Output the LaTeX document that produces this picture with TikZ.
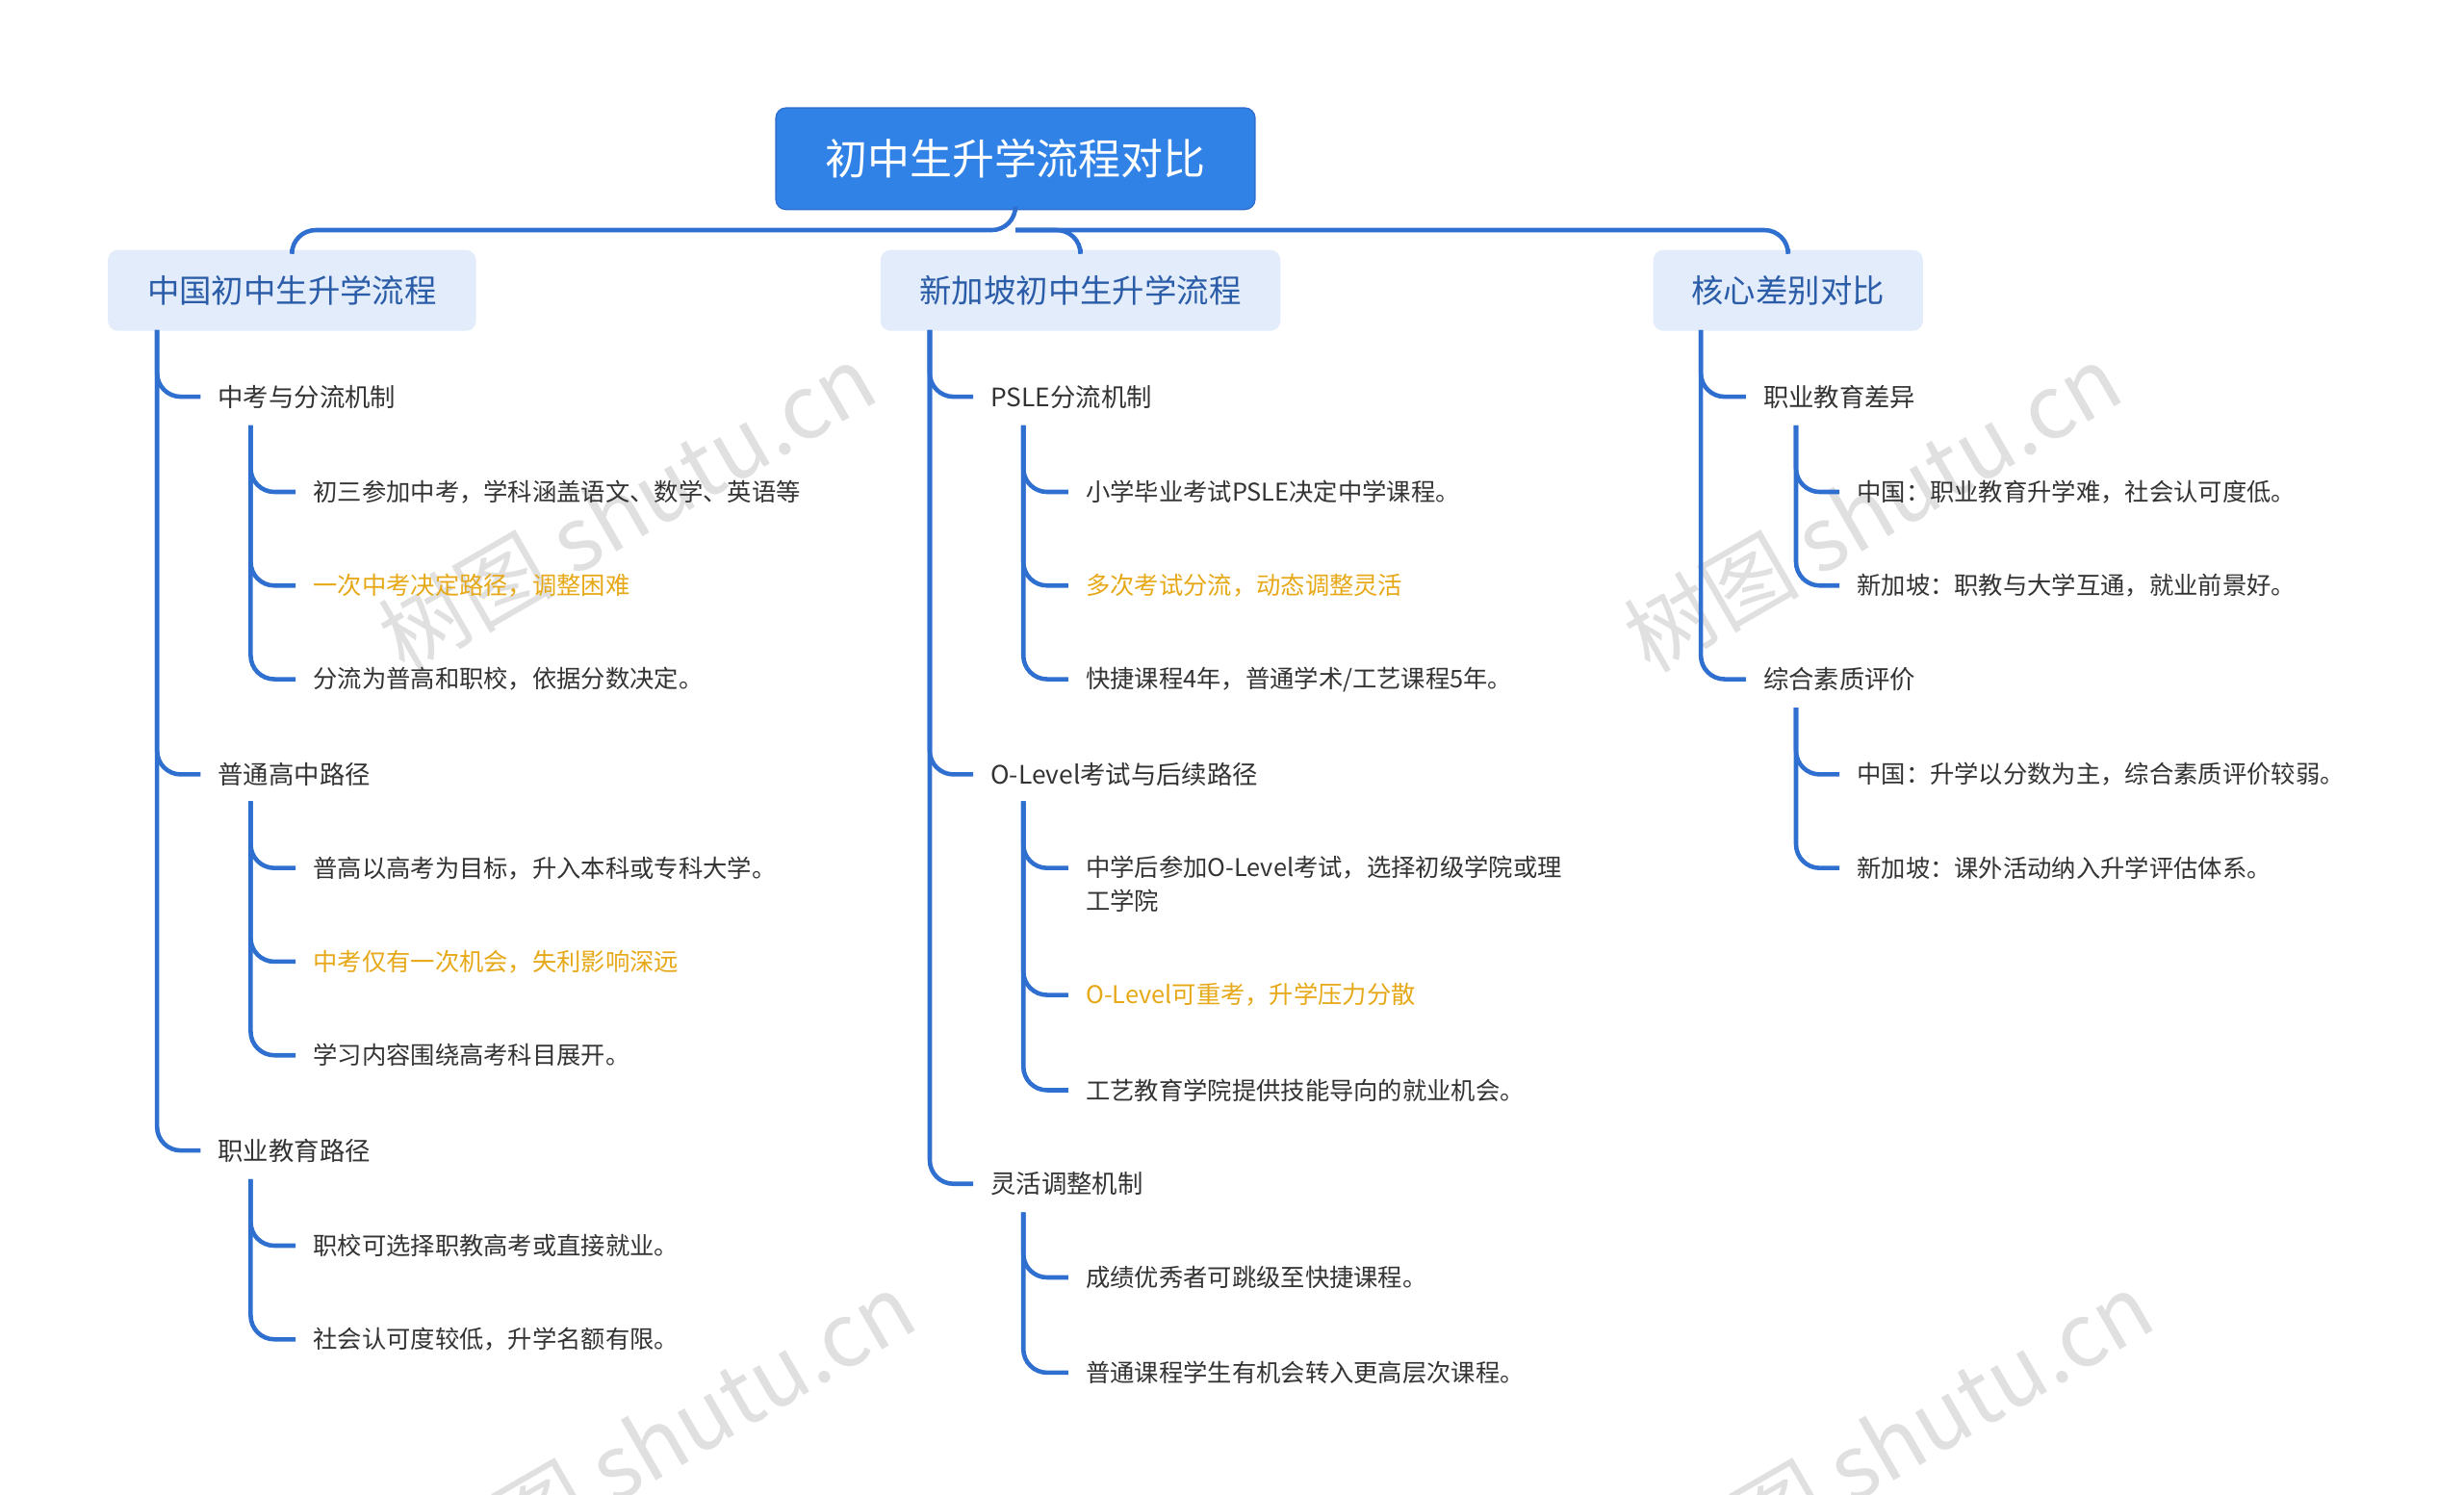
\documentclass[tikz,border=0pt]{standalone}
\usepackage{fontspec}
\setmainfont{Noto Sans CJK SC}
\definecolor{rootc}{HTML}{3182E6}
\definecolor{l1fill}{HTML}{E3ECFB}
\definecolor{l1text}{HTML}{2A5CA8}
\definecolor{linec}{HTML}{2F6FD0}
\definecolor{orc}{HTML}{E6A817}
\definecolor{leafc}{HTML}{333333}
\begin{document}
\begin{tikzpicture}[x=0.01648cm,y=-0.01648cm,
 conn/.style={draw=linec,line width=1.3pt,rounded corners=7pt},
 lone/.style={fill=l1fill,rounded corners=3pt,text=l1text,font=\fontsize{9.5}{11}\selectfont,minimum height=51*0.01648cm,inner xsep=10pt},
 ltwo/.style={anchor=west,text=leafc,font=\fontsize{7.5}{9}\selectfont,inner sep=0pt},
 leaf/.style={anchor=west,text=leafc,font=\fontsize{7.2}{10}\selectfont,inner sep=0pt,align=left},
 oleaf/.style={leaf,text=orc},
 wm/.style={text=black!12,font=\fontsize{26}{30}\selectfont,rotate=30}]
\useasboundingbox (0,0) rectangle (1553,942);
\node[wm] at (395,320) {树图 shutu.cn};
\node[wm] at (1180,320) {树图 shutu.cn};
\node[wm] at (420,905) {树图 shutu.cn};
\node[wm] at (1200,905) {树图 shutu.cn};
% root
\node[fill=rootc,draw=linec,rounded corners=3pt,text=white,font=\fontsize{12.5}{14}\selectfont,minimum width=302*0.01648cm,minimum height=64*0.01648cm] (root) at (640,100) {初中生升学流程对比};
\node[lone,minimum width=232*0.01648cm] (c1) at (184,183) {中国初中生升学流程};
\node[lone,minimum width=252*0.01648cm] (c2) at (681,183) {新加坡初中生升学流程};
\node[lone,minimum width=170*0.01648cm] (c3) at (1127,183) {核心差别对比};
\coordinate (rb) at (640,145);
\draw[conn] (root.south) -- (rb) -| (c1.north);
\draw[conn] (rb) -| (c2.north);
\draw[conn] (rb) -| (c3.north);
% column 1
\coordinate (p1) at (99,208);
\node[ltwo] (a1) at (137,250) {中考与分流机制};
\node[ltwo] (a2) at (137,488) {普通高中路径};
\node[ltwo] (a3) at (137,725) {职业教育路径};
\foreach \n in {a1,a2,a3}{\draw[conn] (p1) |- ([xshift=-5pt]\n.west);}
\coordinate (q1) at (158,268);
\node[leaf] (a11) at (197,310) {初三参加中考，学科涵盖语文、数学、英语等};
\node[oleaf] (a12) at (197,369) {一次中考决定路径，调整困难};
\node[leaf] (a13) at (197,428) {分流为普高和职校，依据分数决定。};
\foreach \n in {a11,a12,a13}{\draw[conn] (q1) |- ([xshift=-5pt]\n.west);}
\coordinate (q2) at (158,505);
\node[leaf] (a21) at (197,547) {普高以高考为目标，升入本科或专科大学。};
\node[oleaf] (a22) at (197,606) {中考仅有一次机会，失利影响深远};
\node[leaf] (a23) at (197,665) {学习内容围绕高考科目展开。};
\foreach \n in {a21,a22,a23}{\draw[conn] (q2) |- ([xshift=-5pt]\n.west);}
\coordinate (q3) at (158,743);
\node[leaf] (a31) at (197,785) {职校可选择职教高考或直接就业。};
\node[leaf] (a32) at (197,844) {社会认可度较低，升学名额有限。};
\foreach \n in {a31,a32}{\draw[conn] (q3) |- ([xshift=-5pt]\n.west);}
% column 2
\coordinate (p2) at (586,208);
\node[ltwo] (b1) at (624,250) {PSLE分流机制};
\node[ltwo] (b2) at (624,488) {O-Level考试与后续路径};
\node[ltwo] (b3) at (624,746) {灵活调整机制};
\foreach \n in {b1,b2,b3}{\draw[conn] (p2) |- ([xshift=-5pt]\n.west);}
\coordinate (r1) at (645,268);
\node[leaf] (b11) at (684,310) {小学毕业考试PSLE决定中学课程。};
\node[oleaf] (b12) at (684,369) {多次考试分流，动态调整灵活};
\node[leaf] (b13) at (684,428) {快捷课程4年，普通学术/工艺课程5年。};
\foreach \n in {b11,b12,b13}{\draw[conn] (r1) |- ([xshift=-5pt]\n.west);}
\coordinate (r2) at (645,505);
\node[leaf] (b21) at (684,557) {中学后参加O-Level考试，选择初级学院或理\\工学院};
\node[oleaf] (b22) at (684,627) {O-Level可重考，升学压力分散};
\node[leaf] (b23) at (684,687) {工艺教育学院提供技能导向的就业机会。};
\draw[conn] (r2) |- ([xshift=-5pt]b21.west|-0,547);
\foreach \n in {b22,b23}{\draw[conn] (r2) |- ([xshift=-5pt]\n.west);}
\coordinate (r3) at (645,764);
\node[leaf] (b31) at (684,805) {成绩优秀者可跳级至快捷课程。};
\node[leaf] (b32) at (684,865) {普通课程学生有机会转入更高层次课程。};
\foreach \n in {b31,b32}{\draw[conn] (r3) |- ([xshift=-5pt]\n.west);}
% column 3
\coordinate (p3) at (1072,208);
\node[ltwo] (d1) at (1111,250) {职业教育差异};
\node[ltwo] (d2) at (1111,428) {综合素质评价};
\foreach \n in {d1,d2}{\draw[conn] (p3) |- ([xshift=-5pt]\n.west);}
\coordinate (s1) at (1132,268);
\node[leaf] (d11) at (1170,310) {中国：职业教育升学难，社会认可度低。};
\node[leaf] (d12) at (1170,369) {新加坡：职教与大学互通，就业前景好。};
\foreach \n in {d11,d12}{\draw[conn] (s1) |- ([xshift=-5pt]\n.west);}
\coordinate (s2) at (1132,446);
\node[leaf] (d21) at (1170,488) {中国：升学以分数为主，综合素质评价较弱。};
\node[leaf] (d22) at (1170,547) {新加坡：课外活动纳入升学评估体系。};
\foreach \n in {d21,d22}{\draw[conn] (s2) |- ([xshift=-5pt]\n.west);}
\end{tikzpicture}
\end{document}
